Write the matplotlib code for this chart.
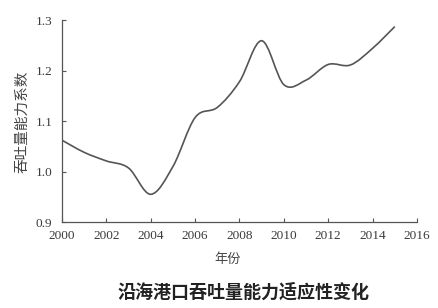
import numpy as np
import matplotlib
matplotlib.use("Agg")
import matplotlib.pyplot as plt
from matplotlib.path import Path
from matplotlib.patches import PathPatch

# 数据
years = [2000, 2001, 2002, 2003, 2004, 2005, 2006, 2007,
         2008, 2009, 2010, 2011, 2012, 2013, 2014, 2015]
coef = [1.062, 1.038, 1.021, 1.007, 0.955, 1.010, 1.107, 1.127,
        1.178, 1.259, 1.172, 1.181, 1.212, 1.211, 1.244, 1.287]
x_ticks = [2000, 2002, 2004, 2006, 2008, 2010, 2012, 2014, 2016]
y_ticks = [0.9, 1.0, 1.1, 1.2, 1.3]

title = "沿海港口吞吐量能力适应性变化"
xlabel = "年份"
ylabel = "吞吐量能力系数"

cjk = ["Noto Sans CJK SC", "DejaVu Sans"]


def smooth_path(xs, ys):
    # 平滑折线 (类似 Excel 的平滑线)，用贝塞尔曲线段
    pts = np.column_stack([xs, ys]).astype(float)
    n = len(pts)
    verts = [pts[0]]
    codes = [Path.MOVETO]
    for i in range(n - 1):
        p0 = pts[max(i - 1, 0)]
        p1 = pts[i]
        p2 = pts[i + 1]
        p3 = pts[min(i + 2, n - 1)]
        c1 = p1 + (p2 - p0) / 6.0
        c2 = p2 - (p3 - p1) / 6.0
        verts += [c1, c2, p2]
        codes += [Path.CURVE4] * 3
    return Path(verts, codes)


fig = plt.figure(figsize=(4.38, 3.08), dpi=100)
ax = fig.add_axes([0.1416, 0.279, 0.8104, 0.656])

patch = PathPatch(smooth_path(years, coef), facecolor="none",
                  edgecolor="#555555", linewidth=1.2)
ax.add_patch(patch)

ax.set_xlim(2000, 2016)
ax.set_ylim(0.9, 1.3)
ax.set_xticks(x_ticks)
ax.set_yticks(y_ticks)
ax.set_xticklabels([str(t) for t in x_ticks], family="Liberation Serif",
                   fontsize=9.5, color="#3a3a3a")
ax.set_yticklabels(["%.1f" % t for t in y_ticks], family="Liberation Serif",
                   fontsize=9.5, color="#3a3a3a")
ax.tick_params(axis="x", direction="in", length=3, width=0.8,
               color="#555555", pad=6)
ax.tick_params(axis="y", direction="in", length=3, width=0.8,
               color="#555555", pad=7)

for s in ["top", "right"]:
    ax.spines[s].set_visible(False)
for s in ["left", "bottom"]:
    ax.spines[s].set_color("#555555")
    ax.spines[s].set_linewidth(0.9)

fig.text(228 / 438, 1 - 260 / 308, xlabel, family=cjk, fontsize=9.5,
         color="#444444", ha="center", va="center")
fig.text(22 / 438, 1 - 122 / 308, ylabel, family=cjk, fontsize=10.5,
         color="#444444", ha="center", va="center", rotation=90)
fig.text(244 / 438, 1 - 292 / 308, title, family=cjk, fontsize=13,
         fontweight="bold", color="#222222", ha="center", va="center")

fig.savefig("out.png", dpi=100, facecolor="white")
